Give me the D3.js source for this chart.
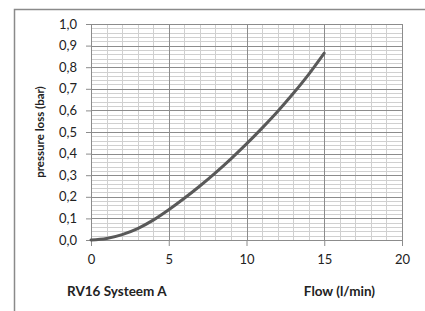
<!DOCTYPE html>
<html>
<head>
<meta charset="utf-8">
<script src="https://cdn.jsdelivr.net/npm/d3@7"></script>
<style>
  body { margin: 0; background: #fff; }
  svg text { font-family: Lato, "Open Sans", sans-serif; fill: #222; }
</style>
</head>
<body>
<div id="chart-area"></div>
<script>
// flow (l/min) and pressure loss (bar)
let flow = [0, 1, 2, 3, 4, 5, 6, 7, 8, 9, 10, 11, 12, 13, 14, 15];
let pressure = [0, 0.007, 0.025, 0.053, 0.092, 0.14, 0.193, 0.25, 0.311, 0.376, 0.445, 0.518, 0.595, 0.678, 0.767, 0.865];
let xTicks = [0, 5, 10, 15, 20];
let yTicks = [0, 0.1, 0.2, 0.3, 0.4, 0.5, 0.6, 0.7, 0.8, 0.9, 1.0];

let margin = {top: 24, right: 23, bottom: 71, left: 91};
let width = 425 - margin.left - margin.right;
let height = 311 - margin.top - margin.bottom;

let root = d3.select("#chart-area").append("svg")
	.attr("width", 425)
	.attr("height", 311);

// outer chart border (only left/top visible)
root.append("path")
	.attr("d", "M14.5,311 V9.5 H425")
	.attr("fill", "none")
	.attr("stroke", "#8a8a8a")
	.attr("stroke-width", 1.5);

let svg = root.append("g")
	.attr("transform", "translate(" + margin.left + "," + margin.top + ")");

let xScale = d3.scaleLinear().domain([0, 20]).range([0, width]);
let yScale = d3.scaleLinear().domain([0, 1]).range([height, 0]);

// minor grid: every 1 l/min and every 0.02 bar
let minorX = d3.range(0, 21, 1);
let minorY = d3.range(0, 51, 1).map(d => d / 50);

svg.append("g").selectAll("line")
	.data(minorY)
	.enter().append("line")
	.attr("x1", 0).attr("x2", width)
	.attr("y1", d => Math.round(yScale(d)) + 0.5)
	.attr("y2", d => Math.round(yScale(d)) + 0.5)
	.attr("stroke", "#d0d0d0");

svg.append("g").selectAll("line")
	.data(minorX)
	.enter().append("line")
	.attr("y1", 0).attr("y2", height)
	.attr("x1", d => Math.round(xScale(d)) + 0.5)
	.attr("x2", d => Math.round(xScale(d)) + 0.5)
	.attr("stroke", "#d0d0d0");

// major grid
svg.append("g").selectAll("line")
	.data(yTicks)
	.enter().append("line")
	.attr("x1", 0).attr("x2", width)
	.attr("y1", d => Math.round(yScale(d)) + 0.5)
	.attr("y2", d => Math.round(yScale(d)) + 0.5)
	.attr("stroke", "#8c8c8c");

svg.append("g").selectAll("line")
	.data(xTicks)
	.enter().append("line")
	.attr("y1", 0).attr("y2", height)
	.attr("x1", d => Math.round(xScale(d)) + 0.5)
	.attr("x2", d => Math.round(xScale(d)) + 0.5)
	.attr("stroke", "#8c8c8c");

// axes
let xAxis = d3.axisBottom(xScale)
	.tickValues(xTicks)
	.tickSize(6)
	.tickPadding(9)
	.tickFormat(d3.format("d"));

let yAxis = d3.axisLeft(yScale)
	.tickValues(yTicks)
	.tickSize(5)
	.tickPadding(9)
	.tickFormat(d => d3.format(".1f")(d).replace(".", ","));

let xGroup = svg.append("g")
	.attr("transform", `translate(0,${height})`)
	.call(xAxis);

let yGroup = svg.append("g")
	.call(yAxis);

[xGroup, yGroup].forEach(g => {
	g.select(".domain").attr("stroke", "#8c8c8c");
	g.selectAll(".tick line").attr("stroke", "#8c8c8c");
	g.selectAll(".tick text")
		.style("font-family", "Lato, 'Open Sans', sans-serif")
		.style("font-size", "13px")
		.attr("fill", "#222");
});

// curve
let line = d3.line()
	.x((d, i) => xScale(flow[i]))
	.y(d => yScale(d))
	.curve(d3.curveMonotoneX);

svg.append("path")
	.datum(pressure)
	.attr("d", line)
	.attr("fill", "none")
	.attr("stroke", "#595959")
	.attr("stroke-width", 3)
	.attr("stroke-linecap", "round");

// titles
svg.append("text")
	.attr("transform", `translate(${-47},${height / 2}) rotate(-90)`)
	.attr("text-anchor", "middle")
	.style("font-weight", "bold")
	.style("font-size", "11.5px")
	.text("pressure loss (bar)");

root.append("text")
	.attr("x", 67)
	.attr("y", 296)
	.style("font-weight", "bold")
	.style("font-size", "13.5px")
	.text("RV16 Systeem A");

root.append("text")
	.attr("x", 375)
	.attr("y", 296)
	.attr("text-anchor", "end")
	.style("font-weight", "bold")
	.style("font-size", "13.5px")
	.text("Flow (l/min)");
</script>
</body>
</html>
